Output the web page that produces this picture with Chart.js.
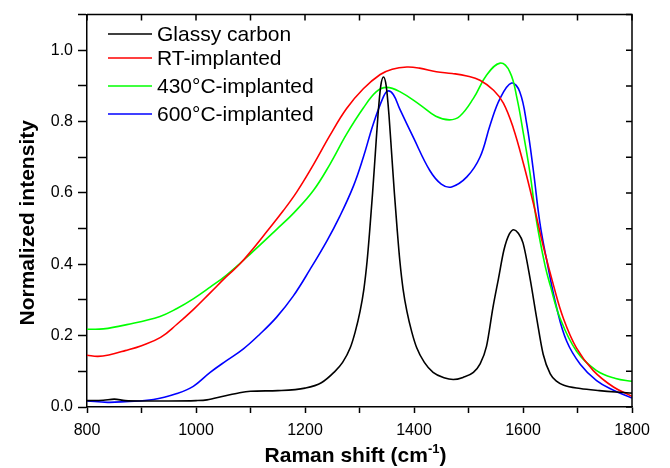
<!DOCTYPE html>
<html><head><meta charset="utf-8">
<script src="https://cdn.jsdelivr.net/npm/chart.js@4"></script>
<style>html,body{margin:0;padding:0;background:#fff}canvas{display:block}</style>
</head><body>
<canvas id="c" width="670" height="468" style="width:670px;height:468px"></canvas>
<script>
const seriesLabels = ['Glassy carbon', 'RT-implanted', '430\u00B0C-implanted', '600\u00B0C-implanted'];
const seriesColors = ['#000000', '#ff0000', '#00ff00', '#0000ff'];

const xTickLabels = [800, 1000, 1200, 1400, 1600, 1800];
const yTickLabels = ['0.0', '0.2', '0.4', '0.6', '0.8', '1.0'];

const glassyX = [800,830,850,870,900,950,1000,1020,1050,1080,1100,1150,1200,1230,1253,1269,1283,1292,1301,1308,1314,1319,1324,1329,1334,1339,1344,1349,1354,1359,1364,1369,1374,1380,1387,1396,1405,1419,1435,1455,1472,1490,1509,1521,1533,1545,1555,1565,1575,1583,1591,1600,1613,1625,1637,1650,1662,1675,1705,1740,1770,1800];
const glassyY = [0.018,0.019,0.022,0.018,0.017,0.017,0.018,0.020,0.030,0.040,0.044,0.046,0.053,0.068,0.097,0.125,0.166,0.21,0.268,0.33,0.41,0.50,0.60,0.71,0.82,0.90,0.925,0.90,0.82,0.71,0.60,0.50,0.41,0.33,0.268,0.21,0.166,0.125,0.097,0.082,0.077,0.083,0.097,0.12,0.17,0.28,0.36,0.44,0.485,0.497,0.488,0.46,0.36,0.25,0.148,0.093,0.072,0.061,0.052,0.046,0.042,0.039];

const rtX = [800,820,840,870,900,935,965,995,1026,1056,1080,1100,1130,1160,1185,1215,1246,1276,1307,1338,1360,1387,1410,1441,1470,1497,1521,1546,1564,1582,1601,1619,1637,1656,1674,1698,1729,1766,1800];
const rtY = [0.145,0.142,0.146,0.158,0.172,0.195,0.232,0.273,0.320,0.366,0.400,0.435,0.492,0.550,0.603,0.678,0.762,0.836,0.892,0.932,0.947,0.953,0.950,0.940,0.935,0.928,0.916,0.888,0.852,0.783,0.681,0.571,0.452,0.341,0.249,0.166,0.102,0.056,0.030];

const t430X = [800,830,873,934,965,995,1026,1056,1099,1148,1180,1215,1246,1276,1307,1331,1350,1374,1411,1440,1465,1484,1509,1533,1558,1576,1589,1601,1613,1625,1640,1650,1668,1698,1735,1770,1800];
const t430Y = [0.218,0.219,0.231,0.254,0.276,0.303,0.336,0.370,0.428,0.498,0.545,0.606,0.681,0.764,0.838,0.884,0.896,0.884,0.847,0.815,0.805,0.815,0.865,0.930,0.964,0.939,0.865,0.764,0.654,0.520,0.400,0.341,0.249,0.157,0.102,0.080,0.072];

const t600X = [800,838,870,922,965,995,1026,1056,1087,1117,1148,1178,1209,1240,1264,1289,1307,1325,1344,1352,1362,1374,1399,1429,1450,1469,1497,1521,1540,1558,1579,1594,1607,1619,1631,1643,1662,1680,1705,1735,1766,1800];
const t600Y = [0.017,0.013,0.015,0.021,0.038,0.058,0.097,0.130,0.163,0.204,0.252,0.310,0.385,0.465,0.535,0.620,0.700,0.792,0.870,0.886,0.876,0.835,0.755,0.663,0.625,0.617,0.645,0.700,0.792,0.865,0.908,0.884,0.792,0.663,0.516,0.415,0.277,0.185,0.120,0.074,0.047,0.025];

const seriesX = [glassyX, rtX, t430X, t600X];
const seriesY = [glassyY, rtY, t430Y, t600Y];

const FONT = "'Liberation Sans', Arial, Helvetica, sans-serif";

const datasets = seriesLabels.map((lab, i) => ({
  label: lab,
  data: seriesX[i].map((x, j) => ({x: x, y: seriesY[i][j]})),
  borderColor: seriesColors[i],
  backgroundColor: seriesColors[i],
  borderWidth: 1.6,
  pointRadius: 0,
  fill: false,
  tension: i === 0 ? 0 : 0.4,
  cubicInterpolationMode: i === 0 ? 'monotone' : 'default'
}));

const decor = {
  id: 'decor',
  afterDraw(chart) {
    const ctx = chart.ctx;
    const a = chart.chartArea;
    const xs = chart.scales.x, ys = chart.scales.y;
    ctx.save();
    ctx.strokeStyle = '#000';
    ctx.lineWidth = 1.5;
    ctx.beginPath();
    ctx.moveTo(a.left, a.top); ctx.lineTo(a.right, a.top); ctx.lineTo(a.right, a.bottom);
    ctx.stroke();
    ctx.beginPath();
    for (let v = 800; v <= 1800; v += 100) {
      const px = xs.getPixelForValue(v);
      ctx.moveTo(px, a.top); ctx.lineTo(px, a.top + 6);
    }
    for (let k = 0; k <= 11; k++) {
      const py = ys.getPixelForValue(k / 10);
      ctx.moveTo(a.right, py); ctx.lineTo(a.right - 6, py);
    }
    ctx.stroke();

    ctx.font = '21px ' + FONT;
    ctx.textBaseline = 'middle';
    ctx.textAlign = 'left';
    const rows = [34, 58, 86, 114];
    chart.data.datasets.forEach((d, i) => {
      ctx.strokeStyle = d.borderColor;
      ctx.lineWidth = 1.6;
      ctx.beginPath();
      ctx.moveTo(108, rows[i]); ctx.lineTo(152, rows[i]);
      ctx.stroke();
      ctx.fillStyle = '#000';
      ctx.fillText(d.label, 157, rows[i] + 1);
    });

    ctx.fillStyle = '#000';
    ctx.textBaseline = 'alphabetic';
    const main = 'Raman shift (cm';
    const sup = '-1';
    const close = ')';
    ctx.font = 'bold 21px ' + FONT;
    const w1 = ctx.measureText(main).width;
    const w3 = ctx.measureText(close).width;
    ctx.font = 'bold 13px ' + FONT;
    const w2 = ctx.measureText(sup).width;
    const total = w1 + w2 + w3;
    let sx = (a.left + a.right) / 2 - total / 2 - 4;
    const by = 462;
    ctx.font = 'bold 21px ' + FONT;
    ctx.fillText(main, sx, by);
    ctx.font = 'bold 13px ' + FONT;
    ctx.fillText(sup, sx + w1, by - 9);
    ctx.font = 'bold 21px ' + FONT;
    ctx.fillText(close, sx + w1 + w2, by);

    ctx.save();
    ctx.translate(28, (a.top + a.bottom) / 2 + 12);
    ctx.rotate(-Math.PI / 2);
    ctx.textAlign = 'center';
    ctx.textBaseline = 'middle';
    ctx.font = 'bold 21px ' + FONT;
    ctx.fillText('Normalized intensity', 0, 0);
    ctx.restore();

    ctx.restore();
  }
};

new Chart(document.getElementById('c'), {
  type: 'line',
  data: { datasets: datasets },
  options: {
    responsive: false,
    devicePixelRatio: 1,
    animation: false,
    layout: { padding: { left: 0, top: 9, right: 38, bottom: 0 } },
    plugins: { legend: { display: false }, tooltip: { enabled: false } },
    scales: {
      x: {
        type: 'linear', min: 800, max: 1800,
        afterFit(s) { s.height = 61; },
        ticks: {
          stepSize: 100, autoSkip: false, maxRotation: 0, padding: 8,
          color: '#000', font: { size: 16, family: FONT },
          callback: v => xTickLabels.includes(v) ? String(v) : ''
        },
        grid: { display: true, drawOnChartArea: false, drawTicks: true, tickLength: 6, tickColor: '#000', tickWidth: 1.5 },
        border: { display: true, color: '#000', width: 1.5 }
      },
      y: {
        type: 'linear', min: 0, max: 1.1,
        afterFit(s) { s.width = 87; },
        ticks: {
          stepSize: 0.1, autoSkip: false, padding: 5,
          color: '#000', font: { size: 16, family: FONT },
          callback: v => { const n = Math.round(v * 10); return (n % 2 === 0 && n <= 10) ? yTickLabels[n / 2] : ''; }
        },
        grid: { display: true, drawOnChartArea: false, drawTicks: true, tickLength: 9, tickColor: '#000', tickWidth: 1.5 },
        border: { display: true, color: '#000', width: 1.5 }
      }
    }
  },
  plugins: [decor]
});
</script>
</body></html>
